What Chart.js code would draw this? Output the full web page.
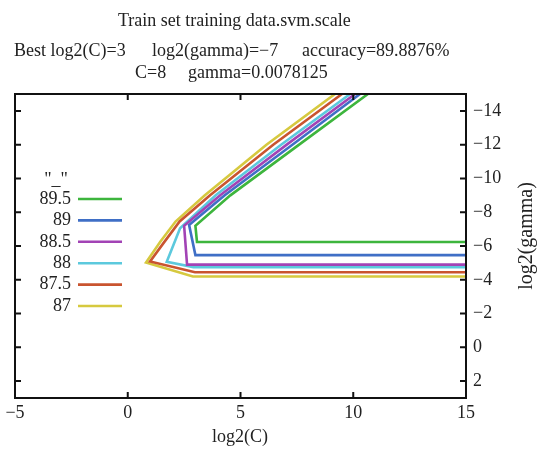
<!DOCTYPE html>
<html>
<head>
<meta charset="utf-8">
<script src="https://cdn.jsdelivr.net/npm/chart.js@4.4.0/dist/chart.umd.min.js"></script>
<style>
html,body{margin:0;padding:0;background:#fff;}
#caixa{position:relative;width:539px;height:452px;}
</style>
</head>
<body>
<div id="caixa"><canvas id="grafico_contorno" width="539" height="452"></canvas></div>
<script>
// contour levels (accuracy %) and colours, same order as the key
var niveis = ['89.5', '89', '88.5', '88', '87.5', '87']
var cores = ['#3db53d', '#3f6fc6', '#a243b5', '#5cc9dd', '#c9542f', '#d6c93f']

// vertices of each contour: log2(C) and log2(gamma)
var contorno_x = [
    [10.65, 7.6, 4.55, 3.0, 3.07, 15],
    [10.3, 7.3, 4.3, 2.72, 3.0, 15],
    [10.08, 7.05, 4.1, 2.5, 2.63, 15],
    [9.86, 6.8, 3.9, 2.32, 1.73, 2.91, 15],
    [9.5, 6.45, 3.65, 2.3, 1.6, 0.99, 2.98, 15],
    [9.19, 6.15, 3.42, 2.12, 1.45, 0.81, 2.89, 15]
]
var contorno_y = [
    [-15, -12, -9, -7.2, -6.24, -6.24],
    [-15, -12, -9, -7.25, -5.46, -5.46],
    [-15, -12, -9, -7.2, -4.9, -4.9],
    [-15, -12, -9, -7.05, -5.06, -4.75, -4.75],
    [-15, -12, -9, -7.45, -6.2, -5.08, -4.45, -4.45],
    [-15, -12, -9, -7.45, -6.27, -5.02, -4.19, -4.19]
]

var ticks_x = [-5, 0, 5, 10, 15]
var ticks_y = [-14, -12, -10, -8, -6, -4, -2, 0, 2]

var titulo1 = 'Train set training data.svm.scale'
var titulo2 = ['Best log2(C)=3', 'log2(gamma)=\u22127', 'accuracy=89.8876%']
var titulo3 = ['C=8', 'gamma=0.0078125']

var fonte = 'Liberation Serif, Times New Roman, serif'
var cor_texto = '#222'

function menos(v) {
    return String(v).replace('-', '\u2212')
}

var conjuntos = []
for (var n = 0; n < niveis.length; n++) {
    var pontos = []
    for (var k = 0; k < contorno_x[n].length; k++) {
        pontos.push({ x: contorno_x[n][k], y: contorno_y[n][k] })
    }
    conjuntos.push({
        label: niveis[n],
        data: pontos,
        showLine: true,
        borderColor: cores[n],
        backgroundColor: cores[n],
        borderWidth: 2.6,
        pointRadius: 0,
        tension: 0
    })
}

// box, inward ticks, titles and key like gnuplot
var extras = {
    id: 'extras',
    afterDatasetsDraw: function (chart) {
        var ctx = chart.ctx
        var a = chart.chartArea
        var sx = chart.scales.x
        var sy = chart.scales.y
        ctx.save()
        ctx.strokeStyle = '#111'
        ctx.lineWidth = 2
        ctx.strokeRect(a.left, a.top, a.right - a.left, a.bottom - a.top)
        ctx.beginPath()
        for (var i = 0; i < ticks_x.length; i++) {
            var px = sx.getPixelForValue(ticks_x[i])
            ctx.moveTo(px, a.bottom); ctx.lineTo(px, a.bottom - 6)
            ctx.moveTo(px, a.top); ctx.lineTo(px, a.top + 6)
        }
        for (var j = 0; j < ticks_y.length; j++) {
            var py = sy.getPixelForValue(ticks_y[j])
            ctx.moveTo(a.left, py); ctx.lineTo(a.left + 6, py)
            ctx.moveTo(a.right, py); ctx.lineTo(a.right - 6, py)
        }
        ctx.stroke()
        ctx.restore()
    },
    afterDraw: function (chart) {
        var ctx = chart.ctx
        ctx.save()
        ctx.fillStyle = cor_texto
        ctx.font = '18px ' + fonte
        ctx.textBaseline = 'alphabetic'
        ctx.textAlign = 'left'
        ctx.fillText(titulo1, 118, 26)
        ctx.fillText(titulo2[0], 14, 56)
        ctx.fillText(titulo2[1], 152, 56)
        ctx.fillText(titulo2[2], 302, 56)
        ctx.fillText(titulo3[0], 135, 78)
        ctx.fillText(titulo3[1], 188, 78)

        // axis titles
        ctx.textAlign = 'center'
        ctx.textBaseline = 'middle'
        ctx.fillText('log2(C)', 240, 437)
        ctx.save()
        ctx.font = '20px ' + fonte
        ctx.translate(527, 236)
        ctx.rotate(-Math.PI / 2)
        ctx.fillText('log2(gamma)', 0, 0)
        ctx.restore()

        // key
        ctx.fillText('"_"', 56, 180)
        ctx.textAlign = 'right'
        for (var n = 0; n < niveis.length; n++) {
            var y = 199 + n * 21.4
            ctx.fillStyle = cor_texto
            ctx.fillText(niveis[n], 71, y)
            ctx.strokeStyle = cores[n]
            ctx.lineWidth = 2.6
            ctx.beginPath()
            ctx.moveTo(78, y)
            ctx.lineTo(122, y)
            ctx.stroke()
        }
        ctx.restore()
    }
}

var contexto = document.getElementById('grafico_contorno').getContext('2d')
var grafico = new Chart(contexto, {
    type: 'scatter',
    data: { datasets: conjuntos },
    options: {
        responsive: false,
        animation: false,
        layout: { padding: { top: 94, left: 15, right: 0, bottom: 0 } },
        plugins: {
            legend: { display: false },
            title: { display: false },
            tooltip: { enabled: false }
        },
        scales: {
            x: {
                type: 'linear',
                position: 'bottom',
                min: -5,
                max: 15,
                grid: { display: false, drawTicks: false },
                border: { display: false },
                afterBuildTicks: function (s) { s.ticks = ticks_x.map(function (v) { return { value: v } }) },
                afterFit: function (s) { s.height = 54 },
                ticks: {
                    padding: 4,
                    maxRotation: 0,
                    color: cor_texto,
                    font: { family: fonte, size: 18 },
                    callback: function (v) { return menos(v) }
                }
            },
            y: {
                type: 'linear',
                position: 'right',
                reverse: true,
                min: -15,
                max: 3,
                grid: { display: false, drawTicks: false },
                border: { display: false },
                afterBuildTicks: function (s) { s.ticks = ticks_y.map(function (v) { return { value: v } }) },
                afterFit: function (s) { s.width = 73 },
                ticks: {
                    padding: 7,
                    color: cor_texto,
                    font: { family: fonte, size: 18 },
                    callback: function (v) { return menos(v) }
                }
            }
        }
    },
    plugins: [extras]
})
</script>
</body>
</html>
